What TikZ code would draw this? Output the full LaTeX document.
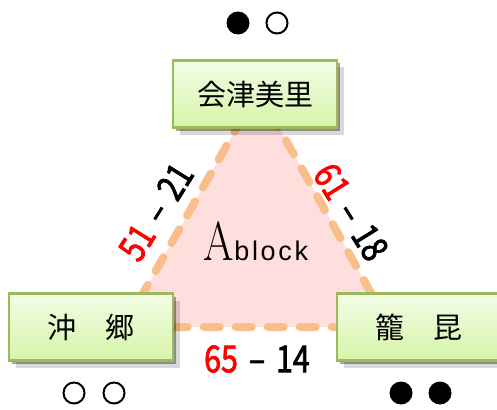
\documentclass[tikz,border=0pt]{standalone}
\usepackage{fontspec}
\usetikzlibrary{shadows}
\newfontfamily\jpfont{Noto Sans CJK JP}
\newfontfamily\numfont[FakeBold=2, FakeStretch=0.82]{Noto Sans CJK JP}
\newfontfamily\blockfont[LetterSpace=10]{Liberation Sans}
\definecolor{edgeorange}{HTML}{F9BF8A}
\definecolor{blockpink}{HTML}{FFDEDE}
\definecolor{boxline}{HTML}{9BBB59}
\definecolor{boxtop}{HTML}{F2FDE6}
\definecolor{boxbottom}{HTML}{D6F4A8}

\begin{document}
\begin{tikzpicture}[x=1pt, y=-1pt,
    townbox/.style={draw=boxline, line width=2.5pt, top color=boxtop, bottom color=boxbottom,
        minimum width=164pt, minimum height=67pt, inner sep=0pt,
        drop shadow={shadow xshift=3pt, shadow yshift=-3pt, opacity=0.35, fill=black},
        drop shadow={shadow xshift=7pt, shadow yshift=-7pt, opacity=0.15, fill=black},
        font=\jpfont\fontsize{29}{32}\selectfont},
    score/.style={inner sep=0pt, font=\numfont\fontsize{37}{38}\selectfont},
    blackdot/.style={circle, fill=black, minimum size=23pt, inner sep=0pt},
    whitedot/.style={circle, draw=black, line width=2pt, minimum size=21pt, inner sep=0pt}]
    \useasboundingbox (0,0) rectangle (497,409);
    % the block
    \coordinate (apex) at (258,90);
    \coordinate (left) at (124,327);
    \coordinate (right) at (390,327);
    \fill[blockpink] (apex) -- (left) -- (right) -- cycle;
    \draw[edgeorange, line width=8pt, line cap=round, line join=round,
        dash pattern=on 16pt off 16pt] (apex) -- (left) -- (right) -- cycle;
    \node[anchor=base, inner sep=0pt] (blockname) at (256,260)
        {\scalebox{0.8}[1]{\fontsize{55}{55}\selectfont A}{\blockfont\fontsize{27}{27}\selectfont block}};
    % towns
    \node[townbox] (aizu) at (255,94) {会津美里};
    \node[townbox] (oki) at (91,327) {沖　郷};
    \node[townbox] (tatsu) at (419,327) {籠　昆};
    % scores
    \node[score, rotate=58] (leftscore) at (156,212) {\textcolor{red}{51}\hspace{11pt}–\hspace{11pt}21};
    \node[score, rotate=-58] (rightscore) at (351,212) {\textcolor{red}{61}\hspace{11pt}–\hspace{11pt}18};
    \node[score] (bottomscore) at (257,359) {\textcolor{red}{65}\hspace{11pt}–\hspace{11pt}14};
    % results
    \node[blackdot] (aizu1) at (238,23) {};
    \node[whitedot] (aizu2) at (277,23) {};
    \node[whitedot] (oki1) at (74,393) {};
    \node[whitedot] (oki2) at (114,393) {};
    \node[blackdot] (tatsu1) at (401,393) {};
    \node[blackdot] (tatsu2) at (440,393) {};
\end{tikzpicture}
\end{document}
